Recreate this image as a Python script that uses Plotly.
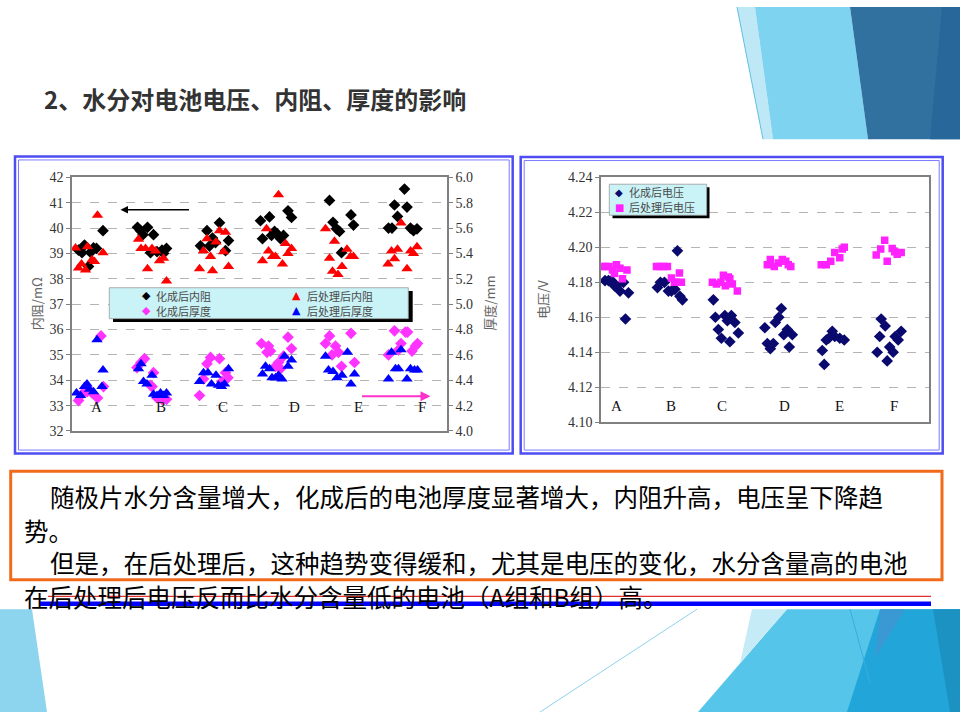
import plotly.graph_objects as go

W, H = 960, 720


def px(x):
    return x / W


def py(y):
    return 1 - y / H


categories = ["A", "B", "C", "D", "E", "F"]

# ---------------- Left chart: internal resistance (left axis) & thickness (right axis)
ir_form_x = [1.3, 2.0, 2.5, 3.3, 3.7, 4.3, 4.9, 6.2,
             13.1, 13.7, 14.2, 15.1, 16.3, 15.7, 17.0, 18.0, 18.3, 18.9,
             25.7, 27.0, 27.5, 28.1, 28.7, 29.5, 30.7, 31.3,
             37.7, 38.1, 39.5, 39.9, 40.5, 41.0, 41.7, 42.3, 43.2, 43.9,
             51.5, 52.2, 52.9, 53.5, 53.9, 55.8, 56.3,
             63.3, 64.0, 64.5, 65.1, 66.5, 67.0, 67.7, 68.3, 69.0]
ir_form_y = [39.13, 39.03, 39.33, 38.49, 39.04, 39.22, 39.20, 39.90,
             40.03, 39.90, 39.74, 40.03, 39.74, 39.03, 39.07, 39.13, 39.00, 39.20,
             39.30, 39.90, 39.29, 39.61, 39.43, 40.21, 39.11, 39.51,
             40.29, 39.58, 40.44, 39.71, 39.87, 39.78, 39.58, 39.71, 40.68, 40.42,
             41.09, 40.23, 39.97, 39.87, 39.03, 40.52, 40.12,
             40.00, 40.00, 40.91, 40.46, 41.54, 40.83, 40.00, 39.90, 39.97]

ir_post_x = [0.7, 1.3, 1.9, 2.7, 3.1, 4.0, 4.5, 5.1, 6.2,
             13.3, 13.8, 14.7, 15.1, 16.0, 16.7, 17.5, 18.3, 18.9,
             25.5, 26.3, 27.0, 27.7, 28.1, 28.8, 29.5, 30.3, 30.7, 31.3,
             38.1, 38.9, 39.3, 40.1, 40.7, 41.3, 42.1, 42.7, 43.2, 43.9,
             50.7, 51.5, 52.1, 52.5, 53.2, 54.0, 55.0, 55.7, 56.3,
             63.2, 63.9, 64.5, 65.1, 65.8, 67.0, 67.7, 68.3, 69.0]
ir_post_y = [39.22, 38.43, 38.58, 38.35, 39.26, 38.75, 38.68, 40.51, 39.03,
             39.56, 39.20, 39.20, 38.40, 39.20, 39.10, 38.71, 38.81, 37.91,
             38.40, 39.11, 39.58, 38.88, 38.32, 39.45, 39.90, 39.07, 39.84, 38.49,
             38.71, 39.97, 39.10, 38.88, 38.88, 41.32, 38.58, 39.39, 39.00, 39.20,
             39.97, 38.81, 38.30, 39.48, 38.17, 38.49, 39.17, 38.88, 38.88,
             38.58, 39.10, 38.79, 39.17, 40.20, 38.40, 39.10, 39.00, 39.26]

th_form_x = [1.3, 2.0, 3.0, 4.0, 5.1, 5.8, 6.3,
             13.0, 13.8, 14.5, 15.7, 16.3, 16.0, 17.0, 18.0, 18.9,
             25.5, 26.3, 27.0, 27.7, 29.5, 30.0, 30.7, 31.2,
             37.9, 39.0, 39.3, 39.7, 40.7, 41.3, 41.7, 42.3, 43.2, 43.9,
             50.7, 51.5, 52.0, 52.7, 53.3, 53.9, 55.8, 56.5,
             63.3, 64.5, 65.3, 65.8, 66.7, 67.1, 68.0, 68.7, 69.1]
th_form_y = [4.24, 4.29, 4.31, 4.30, 4.26, 4.75, 4.35,
             4.50, 4.54, 4.57, 4.36, 4.46, 4.35, 4.26, 4.25, 4.25,
             4.28, 4.41, 4.53, 4.58, 4.57, 4.39, 4.46, 4.42,
             4.69, 4.62, 4.67, 4.63, 4.51, 4.54, 4.49, 4.59, 4.74, 4.65,
             4.69, 4.75, 4.60, 4.67, 4.62, 4.51, 4.77, 4.54,
             4.60, 4.79, 4.64, 4.69, 4.78, 4.78, 4.63, 4.67, 4.69]

th_post_x = [0.9, 1.7, 2.5, 3.0, 3.5, 4.3, 5.0, 6.0, 6.2,
             13.3, 13.8, 14.3, 15.0, 16.0, 16.3, 17.0, 17.7, 18.3, 18.9,
             25.5, 26.3, 27.2, 27.9, 28.8, 29.3, 29.9, 30.5, 31.3,
             38.1, 38.7, 39.5, 40.0, 40.7, 41.3, 42.0, 42.5, 43.2, 43.9,
             50.7, 51.3, 52.2, 53.0, 54.0, 55.1, 55.8, 56.5,
             63.3, 63.9, 64.7, 65.3, 65.8, 67.0, 67.7, 68.5, 69.1]
th_post_y = [4.30, 4.28, 4.35, 4.37, 4.33, 4.31, 4.72, 4.35, 4.48,
             4.49, 4.53, 4.39, 4.37, 4.44, 4.29, 4.28, 4.30, 4.28, 4.30,
             4.39, 4.46, 4.46, 4.37, 4.44, 4.36, 4.35, 4.37, 4.49,
             4.45, 4.51, 4.49, 4.42, 4.42, 4.44, 4.41, 4.59, 4.51, 4.56,
             4.59, 4.48, 4.47, 4.42, 4.44, 4.62, 4.37, 4.45,
             4.41, 4.62, 4.49, 4.49, 4.64, 4.41, 4.49, 4.48, 4.48]

# ---------------- Right chart: voltage
v_form_x = [0.8, 1.5, 2.1, 2.7, 3.1, 3.8, 4.5, 5.5, 4.9,
            11.3, 11.9, 12.7, 13.5, 14.1, 14.8, 15.3, 15.8, 16.3,
            22.5, 22.9, 23.5, 24.1, 24.8, 25.3, 25.8, 26.1, 26.8, 27.5,
            32.8, 33.3, 33.9, 34.5, 34.9, 35.6, 36.1, 36.6, 37.3, 37.7, 38.3,
            44.3, 44.7, 45.1, 45.6, 46.3, 46.8, 47.8, 48.7,
            55.3, 55.8, 56.1, 56.9, 57.3, 57.8, 58.5, 58.9, 59.5, 60.1]
v_form_y = [4.181, 4.181, 4.181, 4.178, 4.178, 4.175, 4.180, 4.174, 4.159,
            4.177, 4.180, 4.180, 4.175, 4.175, 4.176, 4.198, 4.172, 4.170,
            4.170, 4.160, 4.153, 4.148, 4.161, 4.158, 4.146, 4.161, 4.157, 4.151,
            4.154, 4.145, 4.142, 4.145, 4.157, 4.160, 4.165, 4.150, 4.153, 4.143, 4.150,
            4.141, 4.133, 4.147, 4.148, 4.152, 4.149, 4.148, 4.147,
            4.140, 4.149, 4.159, 4.155, 4.135, 4.143, 4.140, 4.149, 4.147, 4.152]

v_post_x = [0.3, 0.9, 1.6, 2.3, 2.7, 3.1, 3.8, 4.3, 5.2,
            11.1, 11.8, 12.5, 13.3, 14.1, 14.7, 15.7, 16.1, 15.1,
            22.3, 23.1, 24.0, 24.5, 24.9, 25.5, 25.8, 26.3, 27.3,
            33.3, 33.9, 34.7, 35.5, 36.3, 37.0, 37.5, 38.0,
            44.1, 45.1, 46.0, 46.8, 47.8, 48.3, 48.7,
            55.1, 56.0, 56.8, 57.3, 58.3, 58.8, 59.3, 60.1]
v_post_y = [4.189, 4.189, 4.189, 4.187, 4.185, 4.190, 4.188, 4.182, 4.187,
            4.189, 4.189, 4.189, 4.189, 4.1825, 4.180, 4.1853, 4.180, 4.180,
            4.180, 4.179, 4.180, 4.184, 4.178, 4.183, 4.182, 4.179, 4.175,
            4.190, 4.193, 4.189, 4.191, 4.193, 4.192, 4.190, 4.189,
            4.190, 4.190, 4.192, 4.197, 4.194, 4.199, 4.200,
            4.1956, 4.199, 4.204, 4.192, 4.1993, 4.1974, 4.196, 4.197]

# category label anchor positions (x units of each chart)
left_cat_x = [4.8, 17.8, 30.1, 44.5, 57.3, 70.0]
right_cat_x = [3.1, 14.0, 24.3, 36.8, 47.7, 58.6]

fig = go.Figure()

fig.add_trace(go.Scatter(x=ir_form_x, y=ir_form_y, mode="markers", name="化成后内阻",
                         marker=dict(symbol="diamond", color="#000000", size=9),
                         xaxis="x", yaxis="y"))
fig.add_trace(go.Scatter(x=ir_post_x, y=ir_post_y, mode="markers", name="后处理后内阻",
                         marker=dict(symbol="triangle-up", color="#ff0000", size=10),
                         xaxis="x", yaxis="y"))
fig.add_trace(go.Scatter(x=th_form_x, y=th_form_y, mode="markers", name="化成后厚度",
                         marker=dict(symbol="diamond", color="#ff33ff", size=9),
                         xaxis="x", yaxis="y2"))
fig.add_trace(go.Scatter(x=th_post_x, y=th_post_y, mode="markers", name="后处理后厚度",
                         marker=dict(symbol="triangle-up", color="#0000ff", size=10),
                         xaxis="x", yaxis="y2"))
fig.add_trace(go.Scatter(x=v_form_x, y=v_form_y, mode="markers", name="化成后电压",
                         marker=dict(symbol="diamond", color="#0a0a6e", size=9),
                         xaxis="x2", yaxis="y3"))
fig.add_trace(go.Scatter(x=v_post_x, y=v_post_y, mode="markers", name="后处理后电压",
                         marker=dict(symbol="square", color="#ff22ff", size=7.5),
                         xaxis="x2", yaxis="y3"))

axis_common = dict(showline=True, linecolor="#808080", linewidth=1.5, zeroline=False)
tick_font = dict(family="Liberation Serif", size=14, color="#333333")

fig.update_layout(
    width=W, height=H, margin=dict(l=0, r=0, t=0, b=0),
    paper_bgcolor="white", plot_bgcolor="rgba(0,0,0,0)", showlegend=False,
    xaxis=dict(domain=[px(72), px(447)], range=[0, 75], showgrid=False,
               showticklabels=False, ticks="", mirror=True, anchor="y", **axis_common),
    yaxis=dict(domain=[py(433), py(174)], range=[32, 42], tick0=32, dtick=1,
               showgrid=True, gridcolor="#b4b4b4", griddash="dash", gridwidth=1,
               ticks="outside", ticklen=4, tickcolor="#808080", mirror=True,
               tickfont=tick_font, anchor="x", **axis_common),
    yaxis2=dict(overlaying="y", side="right", range=[4.0, 6.0], tick0=4.0, dtick=0.2,
                tickformat=".1f", showgrid=False, ticks="outside", ticklen=4,
                tickcolor="#808080", tickfont=tick_font, anchor="x", **axis_common),
    xaxis2=dict(domain=[px(601), px(929)], range=[0, 65.67], showgrid=False,
                showticklabels=False, ticks="", mirror=True, anchor="y3", **axis_common),
    yaxis3=dict(domain=[py(424), py(174)], range=[4.10, 4.24], tick0=4.10, dtick=0.02,
                tickformat=".2f", showgrid=True, gridcolor="#b4b4b4", griddash="dash",
                gridwidth=1, ticks="outside", ticklen=4, tickcolor="#808080", mirror=True,
                tickfont=tick_font, anchor="x2", **axis_common),
)

shapes = []


def rect(x0, y0, x1, y1, line_color=None, line_width=0, fill=None, layer="below"):
    d = dict(type="rect", xref="paper", yref="paper", x0=px(x0), x1=px(x1),
             y0=py(y1), y1=py(y0), layer=layer,
             line=dict(color=line_color or "rgba(0,0,0,0)", width=line_width))
    if fill:
        d["fillcolor"] = fill
    return d


def poly(points, fill, layer="below"):
    path = "M " + " L ".join(f"{px(x):.5f},{py(y):.5f}" for x, y in points) + " Z"
    return dict(type="path", xref="paper", yref="paper", path=path, fillcolor=fill,
                line=dict(width=0), layer=layer)


def seg(x0, y0, x1, y1, color, width, layer="below"):
    return dict(type="line", xref="paper", yref="paper", x0=px(x0), y0=py(y0),
                x1=px(x1), y1=py(y1), line=dict(color=color, width=width), layer=layer)


# decorative top-right
shapes.append(poly([(737, 0), (755, 0), (773, 135), (763, 135)], "#bfe8f6"))
shapes.append(poly([(755, 0), (850, 0), (868, 135), (773, 135)], "#7dd3f0"))
shapes.append(poly([(850, 0), (960, 0), (960, 135), (868, 135)], "#31719f"))
shapes.append(poly([(942, 0), (960, 0), (960, 135), (930, 135)], "#28679a"))
shapes.append(seg(737, 0, 763, 135, "#5fbfe6", 1))
# decorative bottom-left
shapes.append(poly([(0, 615), (32, 615), (47, 720), (0, 720)], "#8dd5ef"))
# decorative bottom-right
shapes.append(poly([(787, 615), (960, 615), (960, 720), (698, 720)], "#55c5ea"))
shapes.append(poly([(752, 615), (787, 615), (740, 670)], "#c5ebf7"))
shapes.append(poly([(880, 615), (960, 615), (960, 720), (847, 720)], "#22a6d9"))
shapes.append(poly([(880, 615), (905, 615), (875, 665)], "#3a98d3"))
shapes.append(poly([(933, 615), (960, 615), (960, 720), (950, 720)], "#1b92c2"))
shapes.append(seg(850, 615, 870, 690, "#3aaedc", 1))
shapes.append(seg(697, 615, 540, 720, "#8fd3ee", 1))

# chart frames (double blue)
for (a, b, c, d) in [(15, 152.7, 512.7, 456), (520.7, 153.3, 942.7, 456)]:
    shapes.append(rect(a, b, c, d, "#4d4df2", 2.5))
    shapes.append(rect(a + 3.5, b + 3.5, c - 3.5, d - 3.5, "#7a7aff", 1))

# legend boxes with shadows
shapes.append(rect(113, 290, 412.7, 321.7, None, 0, "#000000", layer="above"))
shapes.append(rect(109.3, 286.7, 408.3, 318.3, "#9a9a9a", 0.8, "#c9f3f6", layer="above"))
shapes.append(rect(612.5, 184, 709.5, 215.7, None, 0, "#000000", layer="above"))
shapes.append(rect(609.3, 181, 706.7, 212.7, "#9a9a9a", 0.8, "#c9f3f6", layer="above"))

# orange text box and lines under text
shapes.append(rect(10.7, 474, 942, 585, "#f26b1d", 3))
shapes.append(seg(48, 602, 931, 602, "#e03030", 1.2, layer="above"))
shapes.append(seg(40, 609.5, 931, 609.5, "#0000ff", 4.5, layer="above"))

fig.update_layout(shapes=shapes)

ann = []
cjk = "Noto Sans CJK SC"


def ptext(x, y, text, size, color, xanchor="left", angle=0, family=cjk, bold=False):
    t = f"<b>{text}</b>" if bold else text
    return dict(xref="paper", yref="paper", x=px(x), y=py(y), text=t, showarrow=False,
                xanchor=xanchor, yanchor="middle", textangle=angle,
                font=dict(family=family, size=size, color=color))


ann.append(ptext(42, 93, "2、水分对电池电压、内阻、厚度的影响", 24, "#333333", bold=True))

# axis titles
ann.append(ptext(36.5, 303, "内阻/mΩ", 13, "#666666", xanchor="center", angle=-90))
ann.append(ptext(490, 302, "厚度/mm", 13, "#666666", xanchor="center", angle=-90))
ann.append(ptext(543, 299, "电压/V", 13, "#666666", xanchor="center", angle=-90))

# legend entries (left chart)
leg_left = [(146, 294.8, "◆", "#000000", "化成后内阻"),
            (146, 310.4, "◆", "#ff33ff", "化成后厚度"),
            (296.7, 294.8, "▲", "#ff0000", "后处理后内阻"),
            (296.7, 310.4, "▲", "#0000ff", "后处理后厚度")]
for x, y, g, c, t in leg_left:
    ann.append(ptext(x, y, g, 11, c, xanchor="center", family="DejaVu Sans"))
    ann.append(ptext(x + 8.3, y, t, 11, "#4a4a4a"))
leg_right = [(619, 189.1, "◆", "#0a0a6e", "化成后电压"),
             (619, 204.7, "■", "#ff22ff", "后处理后电压")]
for x, y, g, c, t in leg_right:
    ann.append(ptext(x, y, g, 10, c, xanchor="center", family="DejaVu Sans"))
    ann.append(ptext(x + 7.7, y, t, 11, "#4a4a4a"))

# category labels
for cx, cat in zip(left_cat_x, categories):
    ann.append(dict(xref="x", yref="y", x=cx, y=32.95, text=cat, showarrow=False,
                    font=dict(family="Liberation Serif", size=15, color="#111111")))
for cx, cat in zip(right_cat_x, categories):
    ann.append(dict(xref="x2", yref="y3", x=cx, y=4.1093, text=cat, showarrow=False,
                    font=dict(family="Liberation Serif", size=15, color="#111111")))

# arrows in left chart
ann.append(dict(xref="x", yref="y", axref="x", ayref="y", x=9.7, y=40.72, ax=23.7, ay=40.72,
                text="", showarrow=True, arrowhead=2, arrowsize=1, arrowwidth=1.5,
                arrowcolor="#000000"))
ann.append(dict(xref="x", yref="y", axref="x", ayref="y", x=71.7, y=33.37, ax=57.7, ay=33.37,
                text="", showarrow=True, arrowhead=2, arrowsize=1, arrowwidth=2,
                arrowcolor="#ff33cc"))

# body text
ann.append(ptext(48, 500, "随极片水分含量增大，化成后的电池厚度显著增大，内阻升高，电压呈下降趋", 24.5, "#000000"))
ann.append(ptext(22, 535, "势。", 24.5, "#000000"))
ann.append(ptext(48, 567, "但是，在后处理后，这种趋势变得缓和，尤其是电压的变化，水分含量高的电池", 24.5, "#000000"))
ann.append(ptext(22, 602, "在后处理后电压反而比水分含量低的电池（A组和B组）高。", 24.5, "#000000"))

fig.update_layout(annotations=ann)

fig.write_html("out.html",
               config={"displayModeBar": False},
               post_script="document.body.style.margin='0px';"
                           "document.body.style.overflow='hidden';")
